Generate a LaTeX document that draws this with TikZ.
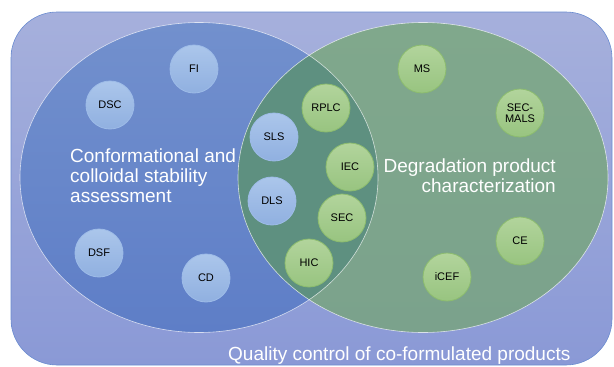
\documentclass[tikz,border=0pt]{standalone}
\usepackage{fontspec}
\setmainfont{Liberation Sans}
\usetikzlibrary{shapes.geometric}
\definecolor{outerTop}{HTML}{A6B0DC}
\definecolor{outerBot}{HTML}{8A99D6}
\definecolor{leftTop}{HTML}{7290CD}
\definecolor{leftBot}{HTML}{5E7EC7}
\definecolor{rightTop}{HTML}{80A88C}
\definecolor{rightBot}{HTML}{7BA28C}
\definecolor{lensC}{HTML}{5E9080}
\definecolor{bcTop}{HTML}{ABC6EB}
\definecolor{bcBot}{HTML}{90B0E0}
\definecolor{bcLine}{HTML}{9EBCE8}
\definecolor{gcTop}{HTML}{B2D49C}
\definecolor{gcBot}{HTML}{98C480}
\definecolor{gcLine}{HTML}{8CBC6E}
\definecolor{frameC}{HTML}{6A8CD0}
\tikzset{
  tech/.style={circle, minimum size=48pt, inner sep=0pt, align=center,
    font=\fontsize{11}{11.5}\selectfont, text=black, line width=0.8pt},
  bluetech/.style={tech, draw=bcLine, top color=bcTop, bottom color=bcBot},
  greentech/.style={tech, draw=gcLine, top color=gcTop, bottom color=gcBot},
  bigtext/.style={text=white, font=\fontsize{19}{19.7}\selectfont, inner sep=0pt},
}
\begin{document}
\begin{tikzpicture}[x=1pt,y=-1pt]
\useasboundingbox (0,0) rectangle (614,367);
% outer frame
\path[top color=outerTop, bottom color=outerBot, draw=frameC, line width=0.6pt, rounded corners=46pt]
  (11,12) rectangle (612,365);
% left ellipse
\path[top color=leftTop, bottom color=leftBot] (199,177.5) ellipse [x radius=179, y radius=155];
% right ellipse
\path[top color=rightTop, bottom color=rightBot] (423,177.5) ellipse [x radius=185, y radius=155];
% lens
\begin{scope}
  \clip (199,177.5) ellipse [x radius=179, y radius=155];
  \fill[lensC] (423,177.5) ellipse [x radius=185, y radius=155];
\end{scope}
\draw[white, opacity=0.7, line width=0.6pt] (199,177.5) ellipse [x radius=179, y radius=155];
\draw[white, opacity=0.7, line width=0.6pt] (423,177.5) ellipse [x radius=185, y radius=155];
% texts
\node[bigtext, anchor=north west, align=left] (conf) at (70,149)
  {Conformational and\\colloidal stability\\assessment};
\node[bigtext, anchor=north east, align=right] (degr) at (556,159)
  {Degradation product\\characterization};
\node[bigtext, anchor=base west] (qc) at (228,360) {Quality control of co-formulated products};
% blue circles
\node[bluetech] (fi) at (194,69) {FI};
\node[bluetech] (dsc) at (110,105) {DSC};
\node[bluetech] (sls) at (274,137) {SLS};
\node[bluetech] (dls) at (272,201) {DLS};
\node[bluetech] (dsf) at (99,253) {DSF};
\node[bluetech] (cd) at (206,278) {CD};
% green circles
\node[greentech] (rplc) at (326,108) {RPLC};
\node[greentech] (ms) at (422,69) {MS};
\node[greentech] (secmals) at (520,113) {SEC-\\MALS};
\node[greentech] (iec) at (350,167) {IEC};
\node[greentech] (sec) at (342,218) {SEC};
\node[greentech] (hic) at (309,263) {HIC};
\node[greentech] (ce) at (520,241) {CE};
\node[greentech] (icef) at (447,277) {iCEF};
\end{tikzpicture}
\end{document}
